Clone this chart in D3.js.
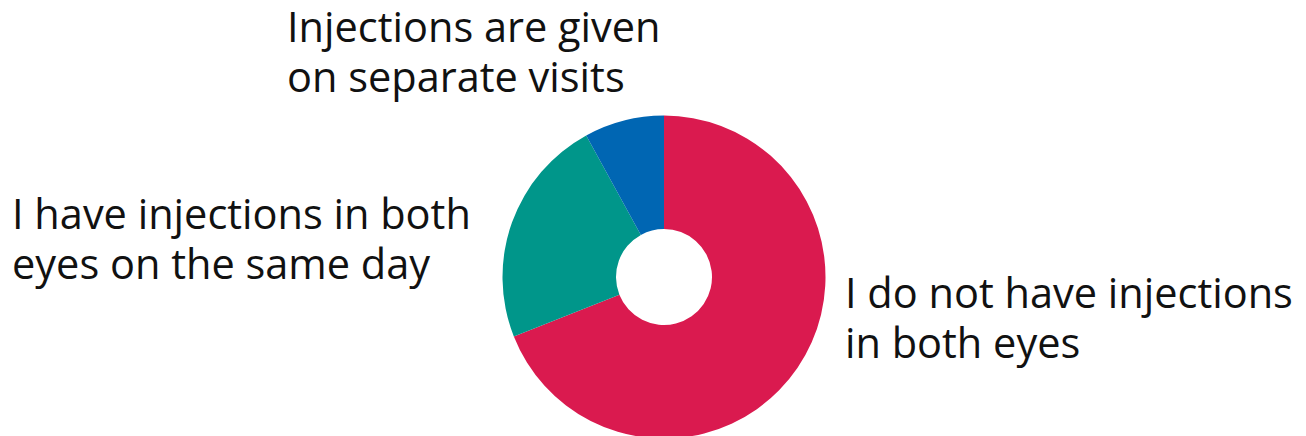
<!DOCTYPE html>
<html>
<head>
<meta charset="utf-8">
<script src="https://cdn.jsdelivr.net/npm/d3@7"></script>
<style>
    body { margin: 0; background: #fff; }
    svg text { font-family: "Open Sans", "Noto Sans", sans-serif; fill: #111; }
</style>
</head>
<body>
<svg id="chart" width="1306" height="436"></svg>
<script>
const categories = [
    "I do not have injections in both eyes",
    "I have injections in both eyes on the same day",
    "Injections are given on separate visits"
];
const values = [69, 23, 8];
const colours = ["#da1a4f", "#00968a", "#0066b3"];
const labelLines = [
    ["I do not have injections", "in both eyes"],
    ["I have injections in both", "eyes on the same day"],
    ["Injections are given", "on separate visits"]
];

const svg = d3.select("#chart");
const cx = 664, cy = 277;
const outer = 161.5, inner = 48;

const pie = d3.pie().sort(null).value((d) => d.value);
const arc = d3.arc().innerRadius(inner).outerRadius(outer);

const data = categories.map((c, i) => ({ name: c, value: values[i], lines: labelLines[i] }));

const colour = d3.scaleOrdinal().domain(categories).range(colours);

const g = svg.append("g").attr("transform", `translate(${cx},${cy})`);

g.selectAll("path")
    .data(pie(data))
    .enter().append("path")
    .attr("d", arc)
    .style("fill", (d) => colour(d.data.name));

// label anchor positions (left x, first baseline)
const labelPos = [
    { x: 845, y: 308 },
    { x: 12, y: 229 },
    { x: 287, y: 42 }
];
const lineGap = 50;

data.forEach(function(d, i) {
    const t = svg.append("text")
        .attr("x", labelPos[i].x)
        .attr("y", labelPos[i].y)
        .style("font-size", "41.5px");
    d.lines.forEach(function(line, j) {
        t.append("tspan")
            .attr("x", labelPos[i].x)
            .attr("dy", j == 0 ? 0 : lineGap)
            .text(line);
    });
});
</script>
</body>
</html>
